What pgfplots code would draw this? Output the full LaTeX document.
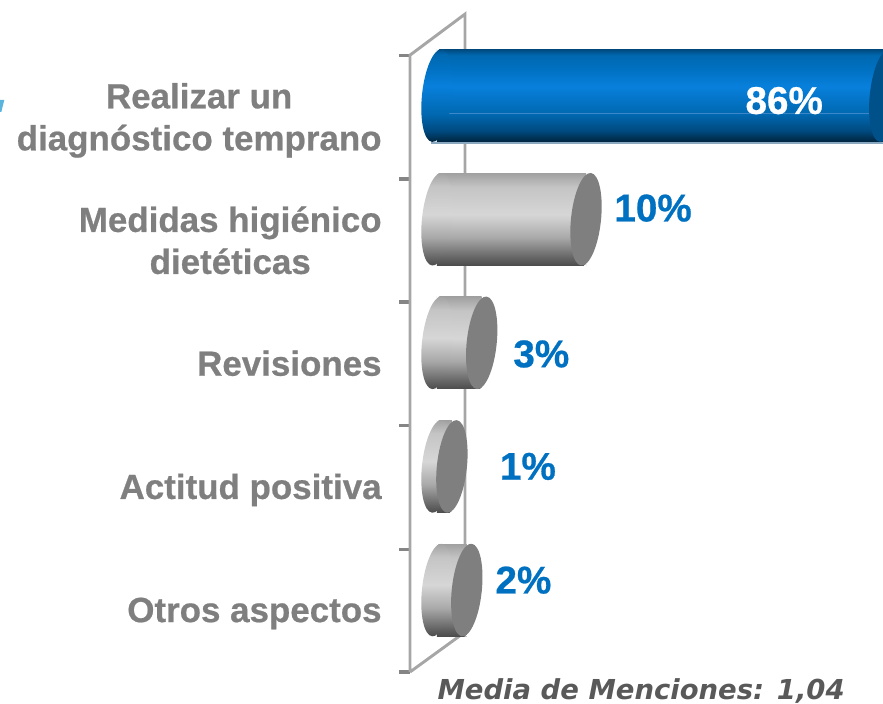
\documentclass[border=0pt]{standalone}
\usepackage{pgfplots}
\pgfplotsset{compat=1.18}
\usepackage{fontspec}
\setmainfont{Liberation Sans}[BoldFeatures={FakeBold=0.6}]
\newfontfamily\capfont{DejaVu Sans}
\definecolor{lblgray}{HTML}{7F7F7F}
\definecolor{wallgray}{HTML}{A6A6A6}
\definecolor{tickgray}{HTML}{858585}
\definecolor{valblue}{HTML}{0070C0}
\definecolor{capgray}{HTML}{7F7F7F}
\definecolor{capblue}{HTML}{00508A}
\definecolor{capttl}{HTML}{595959}
\pgfdeclareverticalshading{cylgray}{100bp}{
  color(0bp)=(black!70!white);
  color(25bp)=(black!70!white);
  color(29bp)=(black!61!white);
  color(40bp)=(black!34!white);
  color(52.5bp)=(black!16!white);
  color(67.5bp)=(black!23!white);
  color(75bp)=(black!37!white);
  color(100bp)=(black!37!white)}
\definecolor{b1}{HTML}{00253F}\definecolor{b2}{HTML}{004A80}\definecolor{b3}{HTML}{0068B0}
\definecolor{b4}{HTML}{0880DC}\definecolor{b5}{HTML}{0070C0}\definecolor{b6}{HTML}{004A80}
\pgfdeclareverticalshading{cylblue}{100bp}{
  color(0bp)=(b1);
  color(25bp)=(b1);
  color(31bp)=(b2);
  color(40bp)=(b3);
  color(55bp)=(b4);
  color(65bp)=(b5);
  color(72bp)=(b3);
  color(75bp)=(b6);
  color(100bp)=(b6)}
\newcommand{\capellipse}{\pgfpathellipse{\pgfpointorigin}{\pgfqpoint{11.19pt}{-1.18pt}}{\pgfqpoint{3.65pt}{34.7pt}}}
\newcommand{\leftpatch}{\begin{pgfscope}\pgfsetfillcolor{white}\pgfpathmoveto{\pgfqpoint{-0.3pt}{35pt}}\pgfpathlineto{\pgfqpoint{1.8pt}{35pt}}\pgfpathlineto{\pgfqpoint{-0.3pt}{33.2pt}}\pgfpathclose\pgfusepath{fill}\end{pgfscope}}
\newcommand{\rightpatch}{\begin{pgfscope}\pgfsetfillcolor{white}\pgfpathmoveto{\pgfqpoint{0.3pt}{-35pt}}\pgfpathlineto{\pgfqpoint{-1.8pt}{-35pt}}\pgfpathlineto{\pgfqpoint{0.3pt}{-33.2pt}}\pgfpathclose\pgfusepath{fill}\end{pgfscope}}
\pgfdeclareplotmark{leftgray}{\leftpatch\capellipse\pgfshadepath{cylgray}{0}\pgfusepath{discard}}
\pgfdeclareplotmark{leftblue}{\leftpatch\capellipse\pgfshadepath{cylblue}{0}\pgfusepath{discard}}
\pgfdeclareplotmark{endcap}{\rightpatch\capellipse\pgfusepathqfill}
\begin{document}
\begin{tikzpicture}[x=1pt,y=1pt]
\useasboundingbox (0,0) rectangle (662.25pt,528pt);
\fill[fill={rgb,255:red,90;green,180;blue,220}] (0,453pt) -- (3.2pt,453pt) -- (1pt,444pt) -- (0,444pt) -- cycle;
\begin{axis}[
  at={(299.25pt,18pt)}, anchor=south west,
  scale only axis, width=363pt, height=502.5pt,
  xmin=-2.55, xmax=29.93, ymin=-0.728, ymax=4.693,
  axis line style={draw=none},
  xtick=\empty,
  ytick={-0.663,0.33,1.33,2.33,3.325,4.328},
  yticklabels={},
  ytick pos=left, tick align=inside,
  major tick length=8.25pt,
  major tick style={color=tickgray, line width=2.4pt},
  extra y ticks={-0.19,0.81,1.835,2.83,3.80},
  extra y tick labels={{Otros aspectos},{Actitud positiva},{Revisiones},{Medidas higiénico\\dietéticas},{Realizar un\\diagnóstico temprano}},
  extra y tick style={major tick length=0pt, major tick style={draw=none}},
  yticklabel style={font=\fontsize{26.2}{31.5}\selectfont\bfseries, text=lblgray, align=center, anchor=east, xshift=-9.5pt},
  clip=false,
]
% walls
\addplot[wallgray, line width=2.2pt, forget plot] coordinates {(-1.81,-0.663) (-1.81,4.328) (1.88,4.66) (1.88,-0.34) (-1.81,-0.663)};
% bars
\addplot[xbar, bar shift=0pt, bar width=69pt, draw=none, shade, shading=cylgray, forget plot] coordinates {(2,0)};
\addplot[xbar, bar shift=0pt, bar width=69pt, draw=none, shade, shading=cylgray, forget plot] coordinates {(1,1)};
\addplot[xbar, bar shift=0pt, bar width=69pt, draw=none, shade, shading=cylgray, forget plot] coordinates {(3,2)};
\addplot[xbar, bar shift=0pt, bar width=69pt, draw=none, shade, shading=cylgray, forget plot] coordinates {(10,3)};
\addplot[xbar, bar shift=0pt, bar width=69pt, draw=none, shade, shading=cylblue, forget plot] coordinates {(86,4)};
% rounded ends
\addplot[only marks, mark=leftgray, forget plot] coordinates {(0,0) (0,1) (0,2) (0,3)};
\addplot[only marks, mark=leftblue, forget plot] coordinates {(0,4)};
\addplot[color={rgb,255:red,60;green,135;blue,200}, line width=0.6pt, forget plot] coordinates {(-1.0,3.859) (30,3.859)};
\addplot[color={rgb,255:red,138;green,168;blue,192}, line width=0.8pt, forget plot] coordinates {(-0.4,3.617) (30,3.617)};
\addplot[only marks, mark=endcap, color=capgray, forget plot] coordinates {(2,0) (1,1) (3,2) (10,3)};
\addplot[only marks, mark=endcap, color=capblue, forget plot] coordinates {(30.05,4)};
% values
\node[text=white, font=\fontsize{29}{30}\selectfont\bfseries] at (axis cs:23.3,3.96) {86\%};
\node[text=valblue, font=\fontsize{29}{30}\selectfont\bfseries] at (axis cs:14.5,3.09) {10\%};
\node[text=valblue, font=\fontsize{29}{30}\selectfont\bfseries] at (axis cs:7.0,1.91) {3\%};
\node[text=valblue, font=\fontsize{29}{30}\selectfont\bfseries] at (axis cs:6.1,1.0) {1\%};
\node[text=valblue, font=\fontsize{29}{30}\selectfont\bfseries] at (axis cs:5.8,0.08) {2\%};
\node[text=capttl, inner sep=0pt, font=\capfont\fontsize{20.6}{24}\selectfont\bfseries\itshape] at (axis cs:13.7,-0.82) {Media de Menciones: 1,04};
\end{axis}
\end{tikzpicture}
\end{document}
